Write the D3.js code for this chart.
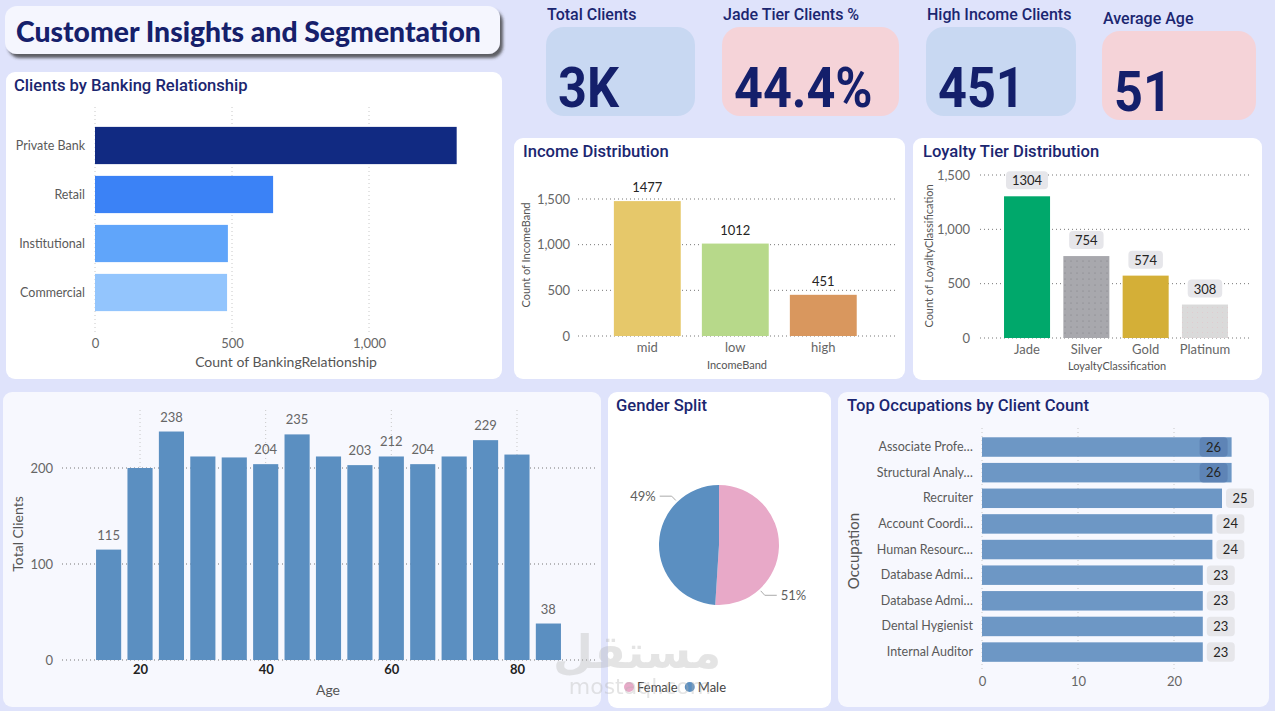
<!DOCTYPE html>
<html lang="en">
<head>
<meta charset="UTF-8">
<title>Customer Insights and Segmentation</title>
<script src="https://d3js.org/d3.v7.min.js"></script>
<style>
  body { margin: 0; background: #dfe3fb; }
  svg { display: block; }
  .ptitle { font-family: Roboto, sans-serif; font-weight: 500; font-size: 16.6px; fill: #1b2670; }
  .kpi-label { font-family: Roboto, sans-serif; font-weight: 500; font-size: 16px; fill: #1b2670; }
  .kpi-value { font-family: Roboto, sans-serif; font-weight: 700; font-size: 56px; fill: #141f6b; }
  .tick text { font-family: Lato, sans-serif; font-size: 13px; fill: #666; }
  .cat .tick text { font-size: 12.5px; fill: #5a5a5a; }
  .axis-title { font-family: Lato, sans-serif; font-size: 14px; fill: #555; }
  .axis-title-sm { font-family: Lato, sans-serif; font-size: 11px; fill: #555; }
  .dlabel { font-family: Lato, sans-serif; font-size: 13px; fill: #252423; }
  .grid-light { stroke: #c8c8c8; stroke-dasharray: 1,3; }
  .grid-dark { stroke: #777; stroke-dasharray: 1,3; }
</style>
</head>
<body>
<svg id="dash" width="1275" height="711"></svg>
<script>
// ---- data ----
const kpiLabels = ["Total Clients", "Jade Tier Clients %", "High Income Clients", "Average Age"];
const kpiValues = ["3K", "44.4%", "451", "51"];

const bankCats = ["Private Bank", "Retail", "Institutional", "Commercial"];
const bankVals = [1320, 650, 485, 482];
const bankTicks = [0, 500, 1000];

const incomeCats = ["mid", "low", "high"];
const incomeVals = [1477, 1012, 451];
const incomeTicks = [0, 500, 1000, 1500];

const loyaltyCats = ["Jade", "Silver", "Gold", "Platinum"];
const loyaltyVals = [1304, 754, 574, 308];
const loyaltyTicks = [0, 500, 1000, 1500];

const ageBins = [15, 20, 25, 30, 35, 40, 45, 50, 55, 60, 65, 70, 75, 80, 85];
const ageVals = [115, 200, 238, 212, 211, 204, 235, 212, 203, 212, 204, 212, 229, 214, 38];
const ageLabelled = [15, 25, 40, 45, 55, 60, 65, 75, 85];
const ageTicks = [20, 40, 60, 80];
const ageYTicks = [0, 100, 200];

const genderCats = ["Female", "Male"];
const genderVals = [51, 49];

const occCats = ["Associate Profe…", "Structural Analy…", "Recruiter", "Account Coordi…",
  "Human Resourc…", "Database Admi…", "Database Admi…", "Dental Hygienist", "Internal Auditor"];
const occVals = [26, 26, 25, 24, 24, 23, 23, 23, 23];
const occTicks = [0, 10, 20];

// ---- colours ----
const bankColors = ["#112a82", "#3b82f6", "#60a5fa", "#93c5fd"];
const incomeColors = ["#e6c86a", "#b7d98a", "#d9975e"];
const loyaltyColors = ["#00a86b", "url(#dotsSilver)", "#d4af37", "url(#dotsPlat)"];
const genderColors = ["#e8a9c8", "#5b8fc1"];
const ageColor = "#5b8fc1";
const occColor = "#6d97c5";

const svg = d3.select("#dash");
const fmt = d3.format(",");

// patterns + shadow
const defs = svg.append("defs");
const ps = defs.append("pattern").attr("id", "dotsSilver").attr("width", 6).attr("height", 6)
  .attr("patternUnits", "userSpaceOnUse");
ps.append("rect").attr("width", 6).attr("height", 6).attr("fill", "#a8a8ad");
ps.append("circle").attr("cx", 3).attr("cy", 3).attr("r", 0.6).attr("fill", "#7e7e84");
const pp = defs.append("pattern").attr("id", "dotsPlat").attr("width", 5).attr("height", 5)
  .attr("patternUnits", "userSpaceOnUse");
pp.append("rect").attr("width", 5).attr("height", 5).attr("fill", "#dadada");
pp.append("circle").attr("cx", 2.5).attr("cy", 2.5).attr("r", 0.5).attr("fill", "#e2c8cc");
const sh = defs.append("filter").attr("id", "shadow").attr("x", "-5%").attr("y", "-20%")
  .attr("width", "115%").attr("height", "160%");
sh.append("feDropShadow").attr("dx", 3).attr("dy", 4).attr("stdDeviation", 1.5)
  .attr("flood-color", "#333").attr("flood-opacity", 0.75);

// ---- panels ----
function panel(x, y, w, h, fill, r) {
  svg.append("rect").attr("x", x).attr("y", y).attr("width", w).attr("height", h)
    .attr("rx", r || 9).attr("fill", fill);
}
svg.append("rect").attr("x", 5).attr("y", 6).attr("width", 495).attr("height", 48)
  .attr("rx", 12).attr("fill", "#f5f6fe").attr("filter", "url(#shadow)");
svg.append("text").attr("x", 16).attr("y", 42)
  .style("font-family", "Lato, sans-serif").style("font-weight", 900).style("font-size", "28.3px")
  .attr("fill", "#16206b").text("Customer Insights and Segmentation");

panel(6, 72, 496, 307, "#ffffff");
panel(514, 138, 391, 241, "#ffffff");
panel(913, 138, 349, 242, "#ffffff");
panel(3, 392, 598, 315, "#f7f8fe");
panel(608, 392, 223, 316, "#ffffff");
panel(838, 392, 431, 315, "#f7f8fe");

// ---- KPI cards ----
const cards = [
  {x: 546, y: 27, w: 149, h: 89, fill: "#c8d8f2", ly: 19.5},
  {x: 722, y: 27, w: 177, h: 89, fill: "#f5d3d8", ly: 19.5},
  {x: 926, y: 27, w: 150, h: 89, fill: "#c8d8f2", ly: 19.5},
  {x: 1102, y: 31, w: 154, h: 89, fill: "#f5d3d8", ly: 23.5}
];
cards.forEach((c, i) => {
  svg.append("rect").attr("x", c.x).attr("y", c.y).attr("width", c.w).attr("height", c.h)
    .attr("rx", 18).attr("fill", c.fill);
  svg.append("text").attr("class", "kpi-label").attr("x", c.x + 1).attr("y", c.ly).text(kpiLabels[i]);
  svg.append("text").attr("class", "kpi-value")
    .attr("transform", `translate(${c.x + 12},${c.y + 80}) scale(0.9,1)`).text(kpiValues[i]);
});

// ---- Clients by Banking Relationship ----
svg.append("text").attr("class", "ptitle").attr("x", 14).attr("y", 91).text("Clients by Banking Relationship");
{
  const x = d3.scaleLinear().domain([0, 1400]).range([95, 478.6]);
  const y = d3.scaleBand().domain(bankCats).range([121, 317]).paddingInner(0.24).paddingOuter(0.12);
  svg.append("g").selectAll("line").data(bankTicks).join("line").attr("class", "grid-light")
    .attr("x1", d => x(d)).attr("x2", d => x(d)).attr("y1", 107).attr("y2", 332);
  svg.append("g").selectAll("rect").data(bankVals).join("rect")
    .attr("x", x(0)).attr("y", (d, i) => y(bankCats[i]))
    .attr("width", d => x(d) - x(0)).attr("height", y.bandwidth())
    .attr("fill", (d, i) => bankColors[i]);
  svg.append("g").attr("transform", "translate(0,339)")
    .call(d3.axisBottom(x).tickValues(bankTicks).tickSize(0).tickPadding(0).tickFormat(fmt))
    .call(g => g.select(".domain").remove());
  svg.append("g").attr("class", "cat").attr("transform", `translate(${x(0) - 10},0)`)
    .call(d3.axisLeft(y).tickSize(0).tickPadding(0))
    .call(g => g.select(".domain").remove());
  svg.append("text").attr("class", "axis-title").attr("x", 286).attr("y", 367)
    .attr("text-anchor", "middle").text("Count of BankingRelationship");
}

// ---- vertical bar chart helper ----
function columnChart(o) {
  const x = d3.scaleBand().domain(o.cats).range(o.xr).paddingInner(o.pi).paddingOuter(o.po);
  const y = d3.scaleLinear().domain([0, 1500]).range(o.yr);
  svg.append("g").selectAll("line").data(o.ticks).join("line").attr("class", "grid-dark")
    .attr("x1", o.gx[0]).attr("x2", o.gx[1]).attr("y1", d => y(d)).attr("y2", d => y(d));
  svg.append("g").attr("transform", `translate(${o.tx},0)`)
    .call(d3.axisLeft(y).tickValues(o.ticks).tickSize(0).tickPadding(0).tickFormat(fmt))
    .call(g => g.select(".domain").remove());
  svg.append("g").selectAll("rect").data(o.vals).join("rect")
    .attr("x", (d, i) => x(o.cats[i])).attr("y", d => y(d))
    .attr("width", x.bandwidth()).attr("height", d => y(0) - y(d))
    .attr("fill", (d, i) => o.colors[i]);
  svg.append("g").attr("transform", `translate(0,${o.yr[0] + 7})`)
    .call(d3.axisBottom(x).tickSize(0).tickPadding(0))
    .call(g => g.select(".domain").remove());
  svg.append("text").attr("class", "axis-title-sm").attr("x", o.titleX[0]).attr("y", o.titleX[1])
    .attr("text-anchor", "middle").text(o.xTitle);
  svg.append("text").attr("class", "axis-title-sm")
    .attr("transform", `translate(${o.titleY[0]},${o.titleY[1]}) rotate(-90)`)
    .attr("text-anchor", "middle").text(o.yTitle);
  const lab = svg.append("g");
  o.vals.forEach((v, i) => {
    const cx = x(o.cats[i]) + x.bandwidth() / 2;
    if (o.boxed) {
      const w = String(v).length * 7.5 + 12;
      lab.append("rect").attr("x", cx - w / 2).attr("y", y(v) - 25).attr("width", w).attr("height", 18)
        .attr("rx", 4).attr("fill", "#e6e6ea");
      lab.append("text").attr("class", "dlabel").attr("x", cx).attr("y", y(v) - 11)
        .attr("text-anchor", "middle").text(v);
    } else {
      lab.append("text").attr("class", "dlabel").attr("x", cx).attr("y", y(v) - 9)
        .attr("text-anchor", "middle").text(v);
    }
  });
}

svg.append("text").attr("class", "ptitle").attr("x", 523).attr("y", 157).text("Income Distribution");
columnChart({
  cats: incomeCats, vals: incomeVals, colors: incomeColors, ticks: incomeTicks,
  xr: [591, 879.6], pi: 0.24, po: 0.26, yr: [336, 199], gx: [578, 897], tx: 570,
  xTitle: "IncomeBand", titleX: [737, 369], yTitle: "Count of IncomeBand", titleY: [530, 255], boxed: false
});

svg.append("text").attr("class", "ptitle").attr("x", 923).attr("y", 157).text("Loyalty Tier Distribution");
columnChart({
  cats: loyaltyCats, vals: loyaltyVals, colors: loyaltyColors, ticks: loyaltyTicks,
  xr: [980.3, 1251.7], pi: 0.224, po: 0.4, yr: [338, 175], gx: [980, 1252], tx: 970,
  xTitle: "LoyaltyClassification", titleX: [1117, 370], yTitle: "Count of LoyaltyClassification",
  titleY: [933, 256], boxed: true
});

// ---- Age histogram ----
{
  const x = d3.scaleLinear().domain([10, 90]).range([77.2, 579.8]);
  const y = d3.scaleLinear().domain([0, 250]).range([660, 420]);
  const bw = (x(5) - x(0)) * 0.8;
  const rows = ageBins.map((b, i) => ({age: b, n: ageVals[i]}));
  svg.append("g").selectAll("line").data(ageYTicks).join("line").attr("class", "grid-dark")
    .attr("x1", 62).attr("x2", 595).attr("y1", d => y(d)).attr("y2", d => y(d));
  svg.append("g").selectAll("line").data(ageTicks).join("line").attr("class", "grid-light")
    .attr("x1", d => x(d)).attr("x2", d => x(d)).attr("y1", 410).attr("y2", 660);
  svg.append("g").selectAll("rect").data(rows).join("rect")
    .attr("x", d => x(d.age) - bw / 2).attr("y", d => y(d.n))
    .attr("width", bw).attr("height", d => y(0) - y(d.n)).attr("fill", ageColor);
  svg.append("g").selectAll("text").data(rows.filter(d => ageLabelled.includes(d.age))).join("text")
    .attr("class", "dlabel").style("fill", "#666")
    .attr("x", d => x(d.age)).attr("y", d => y(d.n) - 10)
    .attr("text-anchor", "middle").text(d => d.n);
  svg.append("g").attr("transform", "translate(53,0)")
    .call(d3.axisLeft(y).tickValues(ageYTicks).tickSize(0).tickPadding(0))
    .call(g => g.select(".domain").remove());
  svg.append("g").attr("transform", "translate(0,665)")
    .call(d3.axisBottom(x).tickValues(ageTicks).tickSize(0).tickPadding(0))
    .call(g => g.select(".domain").remove())
    .call(g => g.selectAll("text").style("fill", "#222").style("font-weight", 700));
  svg.append("text").attr("class", "axis-title").attr("x", 328).attr("y", 695)
    .attr("text-anchor", "middle").text("Age");
  svg.append("text").attr("class", "axis-title")
    .attr("transform", "translate(23,534) rotate(-90)").attr("text-anchor", "middle").text("Total Clients");
}

// ---- Gender Split ----
svg.append("text").attr("class", "ptitle").attr("x", 616).attr("y", 411).text("Gender Split");
{
  const total = d3.sum(genderVals);
  const arcs = d3.pie().sort(null).value(d => d)(genderVals);
  const R = 60;
  const arc = d3.arc().innerRadius(0).outerRadius(R);
  const g = svg.append("g").attr("transform", "translate(719,545)");
  g.selectAll("path").data(arcs).join("path").attr("d", arc).attr("fill", (d, i) => genderColors[i]);
  arcs.forEach(p => {
    const a = p.startAngle + 0.75 * (p.endAngle - p.startAngle);
    const pt = r => [Math.sin(a) * r, -Math.cos(a) * r];
    const p0 = pt(R + 2), p1 = pt(R + 8);
    const side = Math.sin(a) > 0 ? 1 : -1;
    const p2 = [p1[0] + side * 12, p1[1]];
    g.append("polyline").attr("points", [p0, p1, p2].map(q => q.join(",")).join(" "))
      .attr("fill", "none").attr("stroke", "#aaa").attr("stroke-width", 1);
    g.append("text").attr("class", "dlabel").style("fill", "#605e5c")
      .attr("x", p2[0] + side * 4).attr("y", p2[1]).attr("dy", "0.35em")
      .attr("text-anchor", side > 0 ? "start" : "end")
      .text(d3.format(".0%")(p.data / total));
  });
  const leg = svg.append("g").attr("transform", "translate(629,687)");
  let lx = 0;
  genderCats.forEach((c, i) => {
    leg.append("circle").attr("cx", lx).attr("cy", 0).attr("r", 5).attr("fill", genderColors[i]);
    const t = leg.append("text").attr("class", "dlabel").style("fill", "#444")
      .attr("x", lx + 8).attr("y", 0).attr("dy", "0.35em").text(c);
    lx += 8 + t.node().getComputedTextLength() + 12;
  });
}

// ---- Top Occupations ----
svg.append("text").attr("class", "ptitle").attr("x", 847).attr("y", 411).text("Top Occupations by Client Count");
{
  const x = d3.scaleLinear().domain([0, 28]).range([982, 1250.8]);
  const y = d3.scaleBand().domain(d3.range(occCats.length)).range([429.6, 669.5])
    .paddingInner(0.24).paddingOuter(0.3);
  svg.append("g").selectAll("line").data(occTicks).join("line").attr("class", "grid-light")
    .attr("x1", d => x(d)).attr("x2", d => x(d)).attr("y1", 428).attr("y2", 670);
  svg.append("g").selectAll("rect").data(occVals).join("rect")
    .attr("x", x(0)).attr("y", (d, i) => y(i)).attr("width", d => x(d) - x(0))
    .attr("height", y.bandwidth()).attr("fill", occColor);
  svg.append("g").attr("class", "cat").attr("transform", "translate(973,0)")
    .call(d3.axisLeft(y).tickSize(0).tickPadding(0).tickFormat(i => occCats[i]))
    .call(g => g.select(".domain").remove());
  svg.append("g").attr("transform", "translate(0,677)")
    .call(d3.axisBottom(x).tickValues(occTicks).tickSize(0).tickPadding(0))
    .call(g => g.select(".domain").remove());
  svg.append("text").attr("class", "axis-title").style("font-size", "15px")
    .attr("transform", "translate(859,551) rotate(-90)").attr("text-anchor", "middle").text("Occupation");
  const lab = svg.append("g");
  occVals.forEach((v, i) => {
    const w = 28, h = y.bandwidth();
    const inside = x(v) + 4 + w > 1258;
    const bx = inside ? x(v) - 4 - w : x(v) + 4;
    lab.append("rect").attr("x", bx).attr("y", y(i)).attr("width", w).attr("height", h)
      .attr("rx", 4).attr("fill", inside ? "#5a7db0" : "#e6e6ea").attr("opacity", inside ? 0.75 : 1);
    lab.append("text").attr("class", "dlabel").attr("x", bx + w / 2).attr("y", y(i) + h / 2)
      .attr("dy", "0.35em").attr("text-anchor", "middle").text(v);
  });
}

// ---- watermark ----
svg.append("text").attr("x", 637).attr("y", 668).attr("text-anchor", "middle")
  .style("font-family", "'DejaVu Sans', sans-serif").style("font-weight", 700).style("font-size", "46px")
  .attr("fill", "#b4b4b4").attr("opacity", 0.35).text("مستقل");
svg.append("text").attr("x", 640).attr("y", 694).attr("text-anchor", "middle")
  .style("font-family", "'DejaVu Sans', sans-serif").style("font-size", "22px")
  .attr("fill", "#b4b4b4").attr("opacity", 0.35).text("mostaql.com");
</script>
</body>
</html>
